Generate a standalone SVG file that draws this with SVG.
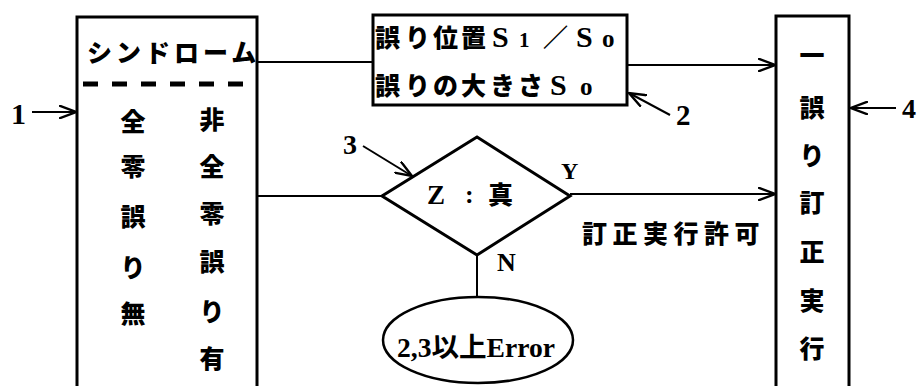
<svg xmlns="http://www.w3.org/2000/svg" width="919" height="386" viewBox="0 0 919 386">
<defs>
<style>
.box{fill:#fff;stroke:#000;stroke-width:3}
.ln{fill:none;stroke:#000;stroke-width:2}
.jp{font-family:"Noto Sans CJK JP","Noto Sans CJK SC",sans-serif;font-weight:900;font-size:25px;fill:#000}
.sr{font-family:"Liberation Serif",serif;font-weight:bold;fill:#000}
.c{text-anchor:middle}
</style>
<marker id="ah" viewBox="0 0 18 14" refX="17" refY="7" markerWidth="18" markerHeight="14" markerUnits="userSpaceOnUse" orient="auto">
<path d="M0,0.5 L17,7 L0,13.5" fill="none" stroke="#000" stroke-width="2.4"/>
</marker>
</defs>
<rect width="919" height="386" fill="#fff"/>

<g id="connectors">
<line class="ln" x1="257" y1="62" x2="373" y2="62"/>
<line class="ln" x1="627" y1="65" x2="775" y2="65" marker-end="url(#ah)"/>
<line class="ln" x1="258" y1="196" x2="382" y2="196"/>
<line class="ln" x1="570" y1="194" x2="775" y2="194" marker-end="url(#ah)"/>
<line class="ln" x1="477" y1="255" x2="477" y2="297"/>
</g>

<g id="node1">
<rect class="box" x="77" y="17" width="180" height="380"/>
<text class="jp" x="87" y="62" letter-spacing="4">シンドローム</text>
<line x1="83" y1="84" x2="250" y2="84" stroke="#000" stroke-width="5" stroke-dasharray="15 14"/>
<g class="jp c">
<text x="133" y="131">全</text>
<text x="133" y="176">零</text>
<text x="133" y="226">誤</text>
<text x="133" y="277">り</text>
<text x="133" y="323">無</text>
<text x="212" y="129">非</text>
<text x="212" y="176">全</text>
<text x="212" y="223">零</text>
<text x="212" y="271">誤</text>
<text x="212" y="321">り</text>
<text x="212" y="368">有</text>
</g>
</g>
<g id="label1">
<text class="sr" x="11" y="124" font-size="30">1</text>
<line class="ln" x1="32" y1="112" x2="76" y2="112" marker-end="url(#ah)"/>
</g>

<g id="node2">
<rect class="box" x="373" y="15" width="254" height="90"/>
<text class="jp" x="375 405 433 461" y="47">誤り位置</text>
<text class="sr" x="492" y="47" font-size="30">S</text>
<text class="sr" x="519" y="47" font-size="21">1</text>
<text class="jp" x="543" y="47">／</text>
<text class="sr" x="576" y="47" font-size="30">S</text>
<text class="sr" x="602" y="47" font-size="25">o</text>
<text class="jp" x="375 405 433 461 490 518" y="95">誤りの大きさ</text>
<text class="sr" x="550" y="95" font-size="30">S</text>
<text class="sr" x="580" y="95" font-size="25">o</text>
</g>
<g id="label2">
<line class="ln" x1="670" y1="115" x2="629" y2="93" marker-end="url(#ah)"/>
<text class="sr" x="676" y="125" font-size="29">2</text>
</g>

<g id="node3">
<polygon points="477,137 570,196 477,255 382,196" fill="#fff" stroke="#000" stroke-width="3"/>
<text class="sr" x="427" y="204" font-size="27">Z</text>
<text class="sr" x="465" y="203" font-size="26">:</text>
<text class="jp" x="488" y="204">真</text>
</g>
<g id="label3">
<text class="sr" x="343" y="154" font-size="28">3</text>
<line class="ln" x1="363" y1="146" x2="412" y2="176" marker-end="url(#ah)"/>
<text class="sr" x="561" y="179" font-size="24">Y</text>
<text class="sr" x="497" y="271" font-size="26">N</text>
<text class="jp" x="582" y="243" font-size="22" letter-spacing="5.5">訂正実行許可</text>
</g>

<g id="node5">
<ellipse cx="478" cy="340" rx="95" ry="43" fill="#fff" stroke="#000" stroke-width="2.5"/>
<text x="397" y="357" font-family="'Liberation Serif','Noto Sans CJK JP',serif" font-weight="bold" font-size="27" textLength="158" lengthAdjust="spacingAndGlyphs" fill="#000">2,3以上Error</text>
</g>

<g id="node4">
<rect class="box" x="776" y="16" width="73" height="380"/>
<g class="jp c">
<text x="812" y="65">一</text>
<text x="812" y="117">誤</text>
<text x="812" y="165">り</text>
<text x="812" y="212">訂</text>
<text x="812" y="261">正</text>
<text x="812" y="310">実</text>
<text x="812" y="358">行</text>
</g>
</g>
<g id="label4">
<line class="ln" x1="896" y1="108" x2="851" y2="108" marker-end="url(#ah)"/>
<text class="sr" x="902" y="118" font-size="28">4</text>
</g>
</svg>
